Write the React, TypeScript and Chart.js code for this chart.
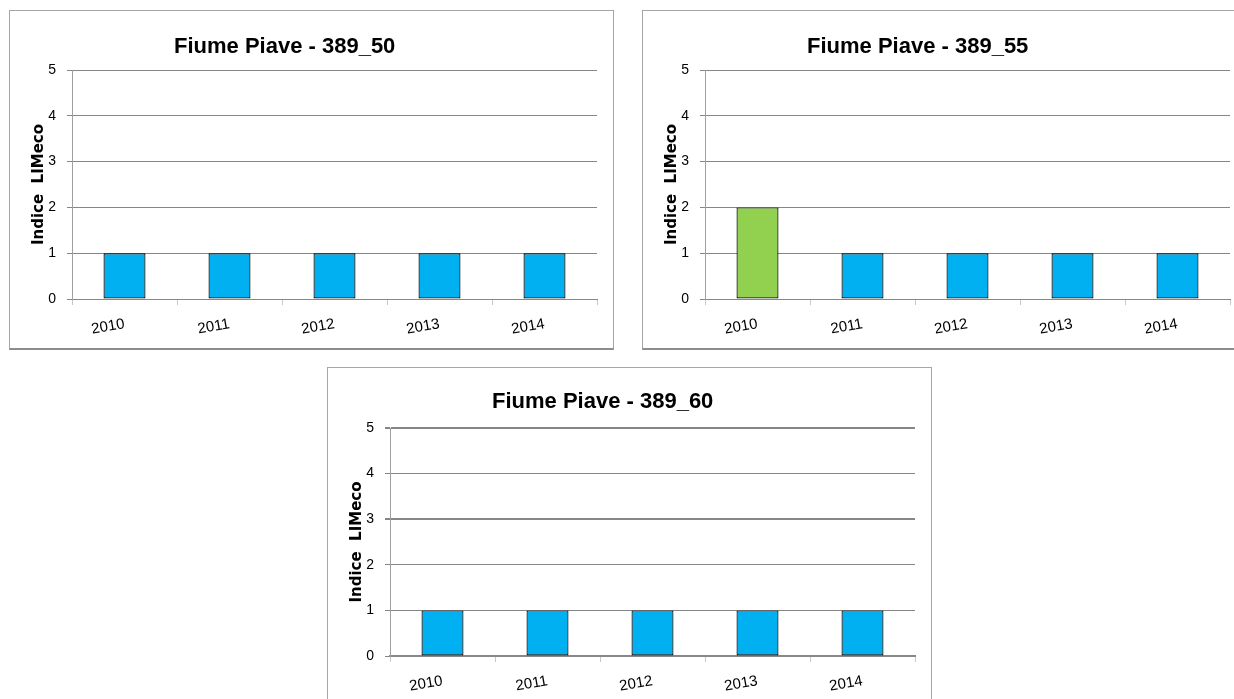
import React, { useEffect, useRef } from "react";
import { Chart, registerables } from "chart.js";

Chart.register(...registerables);

const categories = ["2010", "2011", "2012", "2013", "2014"];
const values389_50 = [1, 1, 1, 1, 1];
const values389_55 = [2, 1, 1, 1, 1];
const values389_60 = [1, 1, 1, 1, 1];
const yTicks = [0, 1, 2, 3, 4, 5];
const classColors: Record<number, string> = {
  1: "#00b0f0",
  2: "#92d050",
  3: "#ffff00",
  4: "#ffc000",
  5: "#ff0000",
};
const axisTitle = "Indice  LIMeco";

const panelTitlePlugin = {
  id: "panelTitle",
  afterDraw(chart: any, _args: any, opts: any) {
    const ctx = chart.ctx;
    ctx.save();
    ctx.font = 'bold 22px "Liberation Sans"';
    ctx.fillStyle = "#000";
    ctx.textAlign = "left";
    ctx.textBaseline = "alphabetic";
    ctx.fillText(opts.text, opts.x, opts.y);
    ctx.restore();
  },
};

type PanelProps = {
  title: string;
  values: number[];
  left: number;
  top: number;
  titleY: number;
  padTop: number;
  heavy: number[];
  axisWidth: number;
};

const CW = 603;
const CH = 338;

function Panel({ title, values, left, top, titleY, padTop, heavy, axisWidth }: PanelProps) {
  const ref = useRef<HTMLCanvasElement | null>(null);
  useEffect(() => {
    if (!ref.current) return;
    const chart = new Chart(ref.current, {
      type: "bar",
      data: {
        labels: categories,
        datasets: [
          {
            data: values,
            backgroundColor: values.map((v) => classColors[v]),
            borderColor: "#000000",
            borderWidth: 1.2,
            borderSkipped: false,
            barPercentage: 0.4,
            categoryPercentage: 1,
          },
        ],
      },
      plugins: [panelTitlePlugin],
      options: {
        responsive: false,
        animation: false,
        devicePixelRatio: 1,
        layout: { padding: { top: padTop, right: 16, left: 0, bottom: 0 } },
        plugins: {
          legend: { display: false },
          tooltip: { enabled: false },
          // @ts-ignore
          panelTitle: { text: title, x: 164, y: titleY },
        },
        scales: {
          x: {
            type: "category",
            offset: true,
            grid: {
              offset: true,
              drawOnChartArea: false,
              tickLength: 6,
              color: "#c8c8c8",
              lineWidth: 1,
            },
            border: { color: "#888888", width: axisWidth },
            ticks: {
              minRotation: 10,
              maxRotation: 10,
              padding: 10,
              color: "#000",
              font: { family: "Liberation Sans", size: 15 },
            },
            afterFit(s: any) {
              s.height = 50;
            },
          },
          y: {
            min: yTicks[0],
            max: yTicks[yTicks.length - 1],
            ticks: {
              stepSize: 1,
              padding: 11,
              color: "#000",
              font: { family: "Liberation Sans", size: 14 },
            },
            grid: {
              color: "#868686",
              lineWidth: (c: any) => (heavy.includes(c.tick?.value) ? 2 : 1),
              tickLength: 5,
            },
            border: { color: "#a0a0a0", width: 1 },
            title: {
              display: true,
              text: axisTitle,
              color: "#000",
              font: { family: "DejaVu Sans", weight: "bold", size: 15 },
              padding: { top: 20.5, bottom: 0 },
            },
            afterFit(s: any) {
              s.width = 62;
            },
          },
        },
      },
    } as any);
    return () => chart.destroy();
  }, []);
  return (
    <div
      style={{
        position: "absolute",
        left,
        top,
        width: 605,
        height: 340,
        boxSizing: "border-box",
        border: "1px solid #a6a6a6",
        borderBottom: "2px solid #8c8c8c",
        background: "#fff",
      }}
    >
      <canvas
        ref={ref}
        width={CW}
        height={CH}
        style={{ display: "block", width: CW, height: CH }}
      />
    </div>
  );
}

export default function App() {
  return (
    <div
      style={{
        position: "absolute",
        left: 0,
        top: 0,
        width: 1234,
        height: 699,
        overflow: "hidden",
        background: "#fff",
      }}
    >
      <Panel title="Fiume Piave - 389_50" values={values389_50} left={9} top={10} titleY={42} padTop={59} heavy={[]} axisWidth={1} />
      <Panel title="Fiume Piave - 389_55" values={values389_55} left={642} top={10} titleY={42} padTop={59} heavy={[]} axisWidth={1} />
      <Panel title="Fiume Piave - 389_60" values={values389_60} left={327} top={367} titleY={40} padTop={60} heavy={[5, 3]} axisWidth={2} />
    </div>
  );
}
